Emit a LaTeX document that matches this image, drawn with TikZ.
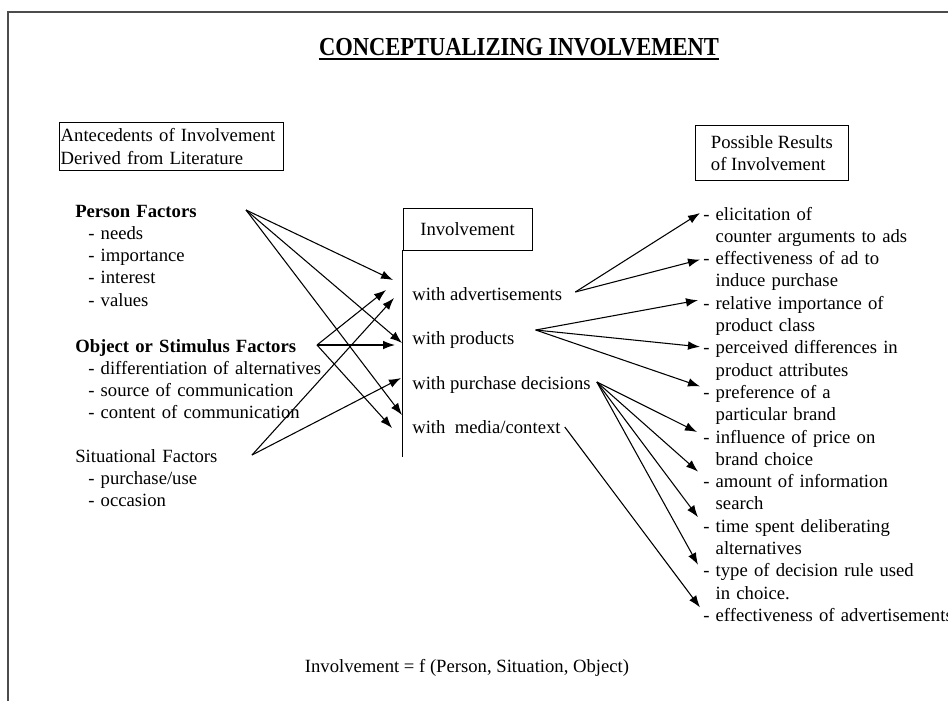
\documentclass[tikz,border=0pt]{standalone}
\usepackage{fontspec}
\setmainfont{Liberation Serif}
\usetikzlibrary{arrows.meta}
\newcommand\itm{\hspace*{9.75pt}}
\newcommand\cont{\phantom{- }}

\tikzset{
  txt/.style={anchor=base west, inner sep=0pt},
  txtblock/.style={txt, text width=300pt, align=left},
  box/.style={draw, line width=.6pt},
  link/.style={-{Latex[length=9pt,width=6.5pt]}, line width=.8pt},
}

\begin{document}
\fontsize{14}{16.73}\selectfont
\begin{tikzpicture}[x=.75pt,y=-.75pt]
\useasboundingbox (0,0) rectangle (948,701);
% page frame
\draw[black!70, line width=.8pt] (8,701) -- (8,12) -- (948,12);

\node [txt, anchor=base, font=\bfseries\fontsize{16.9}{20}\selectfont] at (519,55) (title) {\scalebox{1}[1.15]{CONCEPTUALIZING INVOLVEMENT}};
\draw [line width=1.3pt] ([yshift=-3.2pt]title.base west) -- ([yshift=-3.2pt]title.base east);

\node [box, anchor=north west, text width=166pt, inner xsep=1pt, minimum height=34.5pt, align=left] at (59,122) (ante) {Antecedents of Involvement\\Derived from Literature};
\node [box, anchor=north west, minimum width=114.75pt, minimum height=41.25pt, align=left] at (695,125) (poss) {Possible Results\\of Involvement};
\node [box, minimum width=96.75pt, minimum height=31.5pt] at (467.5,229) (inv) {Involvement};
\draw [line width=.6pt] (inv.south west) -- ++(0,207);
%
\node [txtblock] at (75,217) (pf) {\textbf{Person Factors}\\\itm- needs\\\itm- importance\\\itm- interest\\\itm- values};
\node [txtblock] at (75,352) (osf) {\textbf{Object or Stimulus Factors}\\\itm- differentiation of alternatives\\\itm- source of communication\\\itm- content of communication};
\node [txtblock] at (75,462) (sf) {Situational Factors\\\itm- purchase/use\\\itm- occasion};
%
\node [txt] at (412,300) (wadv) {with advertisements};
\node [txt] at (412,344) (wprod) {with products};
\node [txt] at (412,389) (wpur) {with purchase decisions};
\node [txt] at (412,433) (wmed) {with\ \ media/context};
%
\node [txtblock] at (703,220) (r1) {- elicitation of\\\cont counter arguments to ads};
\node [txtblock] at (703,264.6) (r2) {- effectiveness of ad to\\\cont induce purchase};
\node [txtblock] at (703,309.2) (r3) {- relative importance of\\\cont product class};
\node [txtblock] at (703,353.8) (r4) {- perceived differences in\\\cont product attributes};
\node [txtblock] at (703,398.4) (r5) {- preference of a\\\cont particular brand};
\node [txtblock] at (703,443) (r6) {- influence of price on\\\cont brand choice};
\node [txtblock] at (703,487.6) (r7) {- amount of information\\\cont search};
\node [txtblock] at (703,532.2) (r8) {- time spent deliberating\\\cont alternatives};
\node [txtblock] at (703,576.8) (r9) {- type of decision rule used\\\cont in choice.};
\node [txtblock] at (703,621.4) (r10) {- effectiveness of advertisements};
%
\node [txt, anchor=base] at (467,672) (eq) {Involvement = f (Person, Situation, Object)};
%
% where the arrows leave and meet the texts
\coordinate (pf out) at ([shift={(171,-7)}]pf.base west);
\coordinate (osf out) at ([shift={(242,-7)}]osf.base west);
\coordinate (sf out) at ([shift={(177,-7)}]sf.base west);
\coordinate (a1) at ([shift={(-19,-20)}]wadv.base west);
\coordinate (a2) at ([shift={(-26,-10)}]wadv.base west);
\coordinate (a3) at ([shift={(-18,-2)}]wadv.base west);
\coordinate (p1) at ([shift={(-10,-1)}]wprod.base west);
\coordinate (p2) at ([shift={(-17,1)}]wprod.base west);
\coordinate (d1) at ([shift={(-11,-11)}]wpur.base west);
\coordinate (m1) at ([shift={(-10,-18)}]wmed.base west);
\coordinate (m2) at ([shift={(-20,-5)}]wmed.base west);
\coordinate (wadv out) at ([shift={(13,-8)}]wadv.base east);
\coordinate (wprod out) at ([shift={(21,-14)}]wprod.base east);
\coordinate (wpur out) at ([shift={(6,-7)}]wpur.base east);
\coordinate (wmed out) at ([shift={(4,-6)}]wmed.base east);
\coordinate (r1 in) at ([shift={(-3,-7)}]r1.base west);
\coordinate (r2 in) at ([shift={(-3,-5)}]r2.base west);
\coordinate (r3 in) at ([shift={(-5,-9)}]r3.base west);
\coordinate (r4 in) at ([shift={(-3,-7)}]r4.base west);
\coordinate (r5 in) at ([shift={(-3,-12)}]r5.base west);
\coordinate (r6 in) at ([shift={(-6,-11)}]r6.base west);
\coordinate (r7 in) at ([shift={(-5,-16)}]r7.base west);
\coordinate (r8 in) at ([shift={(-5,-15)}]r8.base west);
\coordinate (r9 in) at ([shift={(-5,-12)}]r9.base west);
\coordinate (r10 in) at ([shift={(-3,-14)}]r10.base west);
%
\path[link] (pf out) edge (a1);
\path[link] (pf out) edge (p1);
\path[link] (pf out) edge (m1);
\path[link] (osf out) edge (a2);
\path[link] (osf out) edge (p2);
\path[link] (osf out) edge (m2);
\path[link] (sf out) edge (a3);
\path[link] (sf out) edge (d1);
\path[link] (wadv out) edge (r1 in);
\path[link] (wadv out) edge (r2 in);
\path[link] (wprod out) edge (r3 in);
\path[link] (wprod out) edge (r4 in);
\path[link] (wprod out) edge (r5 in);
\path[link] (wpur out) edge (r6 in);
\path[link] (wpur out) edge (r7 in);
\path[link] (wpur out) edge (r8 in);
\path[link] (wpur out) edge (r9 in);
\path[link] (wmed out) edge (r10 in);

\end{tikzpicture}
\end{document}
